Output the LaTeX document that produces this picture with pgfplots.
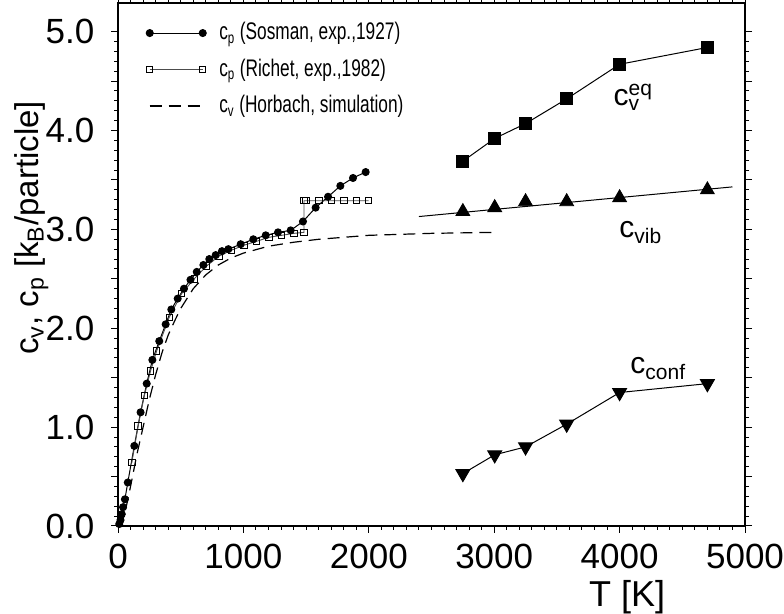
\documentclass[border=0pt]{standalone}
\usepackage{fontspec}
\setmainfont{Liberation Sans}
\usepackage{graphicx}
\usepackage{pgfplots}
\pgfplotsset{compat=1.18}
\newcommand{\legtxt}[1]{\scalebox{0.72}[1]{#1}}
\begin{document}
\begin{tikzpicture}
\begin{axis}[
  scale only axis, width=313.5pt, height=261.5pt,
  xmin=0, xmax=5000, ymin=0, ymax=5.29,
  axis line style={line width=0.6pt},
  tick align=outside,
  major tick length=3.5pt, minor tick length=2pt,
  every tick/.style={line width=0.5pt, black},
  xtick={0,1000,2000,3000,4000,5000},
  xticklabels={0,1000,2000,3000,4000,5000},
  minor x tick num=9,
  ytick={0,0.5,1,1.5,2,2.5,3,3.5,4,4.5,5},
  yticklabels={0.0,,1.0,,2.0,,3.0,,4.0,,5.0},
  minor y tick num=4,
  ticklabel style={font=\fontsize{17.5}{18}\selectfont},
  yticklabel style={xshift=-4.8pt},
  xticklabel style={yshift=-2.2pt},
  xlabel={T [K]},
  xlabel style={at={(rel axis cs:0.812,-0.1355)}, anchor=center, font=\fontsize{18}{19}\selectfont},
  ylabel={c\textsubscript{v}, c\textsubscript{p} [k\textsubscript{B}/particle]},
  ylabel style={at={(rel axis cs:-0.127,0.57)}, anchor=base, font=\fontsize{16.5}{18}\selectfont},
  legend style={draw=none, fill=none, at={(rel axis cs:0.0444,0.971)}, anchor=north west,
    font=\fontsize{12}{13}\selectfont, inner sep=0pt, row sep=3.75pt,
    nodes={inner sep=1.5pt, text height=9pt, text depth=2.5pt}},
  legend cell align=left,
  legend image code/.code={\draw[#1] plot coordinates {(0pt,0pt) (26.5pt,0pt)}; \path (33pt,0pt);},
]
\coordinate (bbA) at (rel axis cs:-0.1882,-0.1679);
\coordinate (bbB) at (rel axis cs:1.0622,1.0057);
% Sosman
\addplot[black, line width=0.5pt, mark=*, mark size=1.75pt] coordinates {
(10,0.02) (20,0.06) (30,0.12) (40,0.19) (55,0.27) (78,0.44) (130,0.81) (180,1.15)
(229,1.44) (274,1.68) (329,1.87) (380,2.04) (425,2.19) (476,2.30) (526,2.40)
(578,2.49) (628,2.57) (681,2.64) (728,2.70) (779,2.74) (829,2.78) (880,2.80)
(978,2.85) (1079,2.90) (1178,2.94) (1276,2.97) (1377,2.99) (1475,3.08) (1576,3.22)
(1675,3.33) (1773,3.44) (1874,3.52) (1975,3.58)};
\addlegendentry{\legtxt{c\textsubscript{p} (Sosman, exp.,1927)}}
% Richet
\addplot[black!70, line width=0.45pt, mark=square, mark size=1.6pt, mark options={black, line width=0.45pt, fill=white}] coordinates {
(110,0.64) (160,1.01) (210,1.32) (260,1.57) (308,1.77) (408,2.11) (507,2.35)
(608,2.50) (707,2.63) (805,2.73) (906,2.79) (1005,2.84) (1106,2.88) (1204,2.92)
(1305,2.94) (1403,2.96) (1483,2.97) (1483,3.29) (1500,3.29) (1603,3.29) (1704,3.29)
(1802,3.29) (1900,3.29) (1999,3.29)};
\addlegendentry{\legtxt{c\textsubscript{p} (Richet, exp.,1982)}}
% Horbach
\addplot[black, line width=0.6pt, dash pattern=on 6pt off 3.5pt] coordinates {
(0,0) (50,0.10) (100,0.40) (150,0.72) (200,1.0) (250,1.28) (300,1.53) (350,1.75)
(400,1.93) (450,2.07) (500,2.20) (600,2.40) (700,2.54) (800,2.64) (900,2.71)
(1000,2.76) (1200,2.83) (1400,2.87) (1600,2.90) (1800,2.92) (2000,2.94)
(2250,2.95) (2500,2.96) (3000,2.97)};
\addlegendentry{\legtxt{c\textsubscript{v} (Horbach, simulation)}}
% c_v^eq
\addplot[forget plot, black, line width=0.5pt, mark=square*, mark size=3pt] coordinates {
(2750,3.69) (3004,3.92) (3250,4.07) (3578,4.32) (4000,4.67) (4700,4.84)};
% c_vib fit line
\addplot[forget plot, black, line width=0.5pt] coordinates {(2400,3.13) (4900,3.43)};
% c_vib points
\addplot[forget plot, only marks, black, mark=triangle*, mark size=4pt] coordinates {
(2750,3.18) (3004,3.22) (3250,3.28) (3578,3.28) (4000,3.32) (4700,3.40)};
% c_conf
\addplot[forget plot, black, line width=0.5pt, mark=triangle*, mark size=4pt, mark options={rotate=180}] coordinates {
(2750,0.53) (3004,0.72) (3250,0.80) (3578,1.03) (4000,1.35) (4700,1.44)};
\node[anchor=base west, inner sep=0pt, font=\fontsize{15}{16}\selectfont] at (axis cs:3950,4.25) {c\rlap{\textsubscript{v}}\textsuperscript{eq}};
\node[anchor=base west, inner sep=0pt, font=\fontsize{15}{16}\selectfont] at (axis cs:3995,2.915) {c\textsubscript{vib}};
\node[anchor=base west, inner sep=0pt, font=\fontsize{15}{16}\selectfont] at (axis cs:4083,1.54) {c\textsubscript{conf}};
\end{axis}
\pgfresetboundingbox
\path[use as bounding box] (bbA) rectangle (bbB);
\end{tikzpicture}
\end{document}
